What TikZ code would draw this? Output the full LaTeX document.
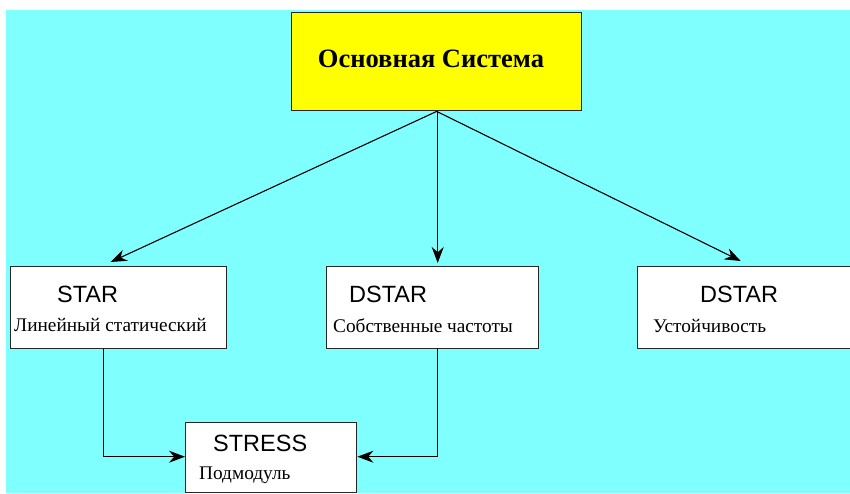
\documentclass[tikz,border=0pt]{standalone}
\usepackage{fontspec}
\setmainfont{Liberation Serif}
\setsansfont{Liberation Sans}
\usetikzlibrary{arrows.meta}
\definecolor{bg cyan}{HTML}{80FFFF}
\definecolor{main yellow}{HTML}{FFFF00}
\tikzset{
  module box/.style={draw=black!85,line width=1.4pt,fill=white,anchor=north west,inner sep=0pt},
  call arrow/.style={line width=1.1pt,-{Stealth[length=16pt,width=12pt]}},
  code name/.style={font=\sffamily\fontsize{23.5}{23.5}\selectfont,anchor=west,inner sep=0pt},
  code text/.style={font=\fontsize{19.3}{19.3}\selectfont,anchor=west,inner sep=0pt}
}

\begin{document}
\begin{tikzpicture}[x=1pt,y=-1pt]
\useasboundingbox (0,0) rectangle (850,493);
\fill[bg cyan] (6,10) rectangle (850,493);
% main system
\node[module box,fill=main yellow,minimum width=290pt,minimum height=98pt] (main) at (291,12) {};
\node[font=\bfseries\fontsize{26.5}{26.5}\selectfont,inner sep=0pt] (mainlabel) at (431,59) {Основная Система};
% modules
\node[module box,minimum width=216pt,minimum height=82pt] (star)   at (10,266)  {};
\node[module box,minimum width=212pt,minimum height=82pt] (dstar)  at (326,266) {};
\node[module box,minimum width=216pt,minimum height=82pt] (dstarb) at (637,266) {};
\node[module box,minimum width=171pt,minimum height=70pt] (stress) at (185,422) {};
% labels
\node[code name] (starname)   at (57,294)  {STAR};
\node[code text] (startext)   at (14,325)  {Линейный статический};
\node[code name] (dstarname)  at (349,294) {DSTAR};
\node[code text] (dstartext)  at (333,326) {Собственные частоты};
\node[code name] (dstarbname) at (700,294) {DSTAR};
\node[code text] (dstarbtext) at (653,326) {Устойчивость};
\node[code name] (stressname) at (213,443) {STRESS};
\node[code text] (stresstext) at (199,475) {Подмодуль};
% calls
\draw[call arrow] (main.south) -- ([xshift=-8pt,yshift=4pt]star.north);
\draw[call arrow,shorten >=3pt] ([xshift=1pt]main.south) -- ([xshift=5pt]dstar.north);
\draw[call arrow] (main.south) -- ([xshift=-5pt,yshift=5pt]dstarb.north);
\draw[call arrow] ([xshift=-15pt]star.south) |- ([yshift=1pt]stress.west);
\draw[call arrow] ([xshift=5pt]dstar.south) |- ([yshift=1pt]stress.east);
\end{tikzpicture}
\end{document}
